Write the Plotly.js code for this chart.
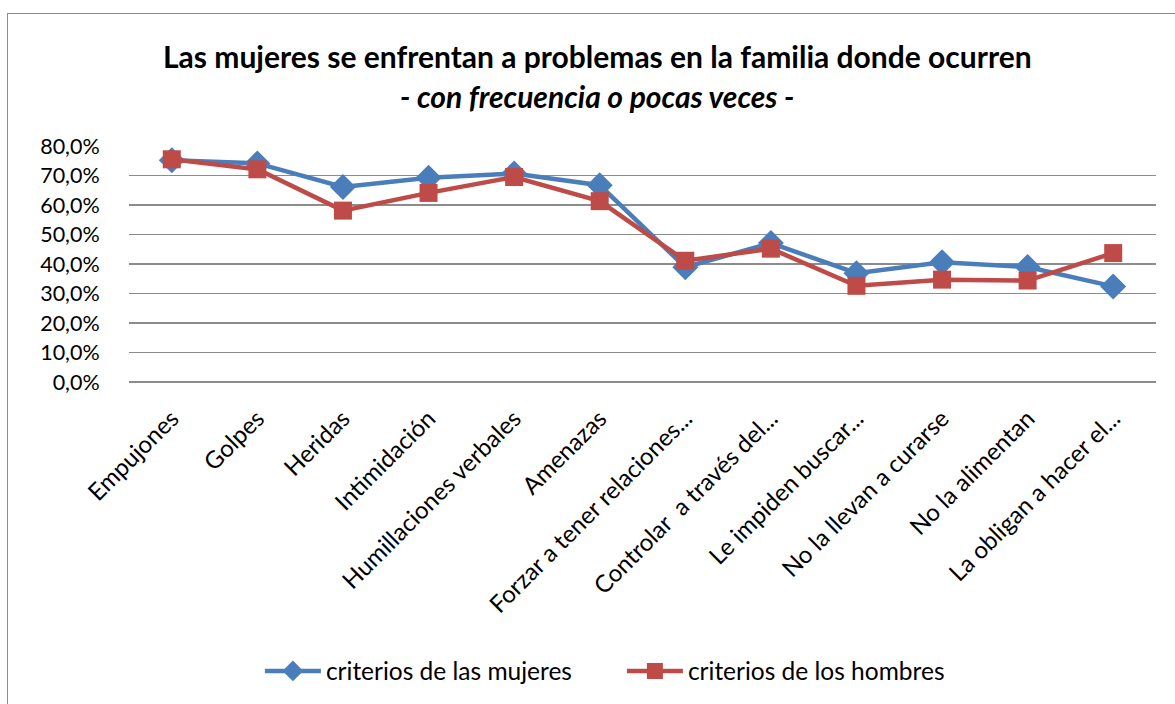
<!DOCTYPE html>
<html>
<head>
<meta charset="utf-8">
<script src="https://cdn.plot.ly/plotly-3.0.1.min.js"></script>
<style>
html,body{margin:0;padding:0;background:#fff;overflow:hidden;}
#chart{position:absolute;left:7px;top:13px;width:1168px;height:691px;border-left:1.5px solid #8c8c8c;border-top:1.5px solid #8c8c8c;box-sizing:border-box;}
</style>
</head>
<body>
<div id="chart"></div>
<script>
const categories = ["Empujones","Golpes","Heridas","Intimidación","Humillaciones verbales","Amenazas","Forzar a tener relaciones...","Controlar  a través del...","Le impiden buscar...","No la llevan a curarse","No la alimentan","La obligan a hacer el..."];
const mujeres = [0.752, 0.741, 0.661, 0.692, 0.707, 0.667, 0.389, 0.471, 0.369, 0.406, 0.390, 0.324];
const hombres = [0.755, 0.721, 0.581, 0.641, 0.695, 0.613, 0.411, 0.452, 0.326, 0.347, 0.344, 0.437];
const seriesNames = ["criterios de las mujeres","criterios de los hombres"];
const titleLine1 = "Las mujeres se enfrentan a problemas en la familia donde ocurren";
const titleLine2 = "- con frecuencia o pocas veces -";

const FONT = "Lato, 'Open Sans', sans-serif";
const H = 689;
const traces = [
  {x: categories, y: mujeres, name: seriesNames[0], type: 'scatter', mode: 'lines+markers',
   line: {color: '#4a7ebb', width: 4.5}, marker: {symbol: 'diamond', size: 20, color: '#4a7ebb'}},
  {x: categories, y: hombres, name: seriesNames[1], type: 'scatter', mode: 'lines+markers',
   line: {color: '#be4b48', width: 4.5}, marker: {symbol: 'square', size: 18, color: '#be4b48'}}
];
const layout = {
  width: 1166, height: H,
  separators: ',.',
  paper_bgcolor: 'rgba(0,0,0,0)', plot_bgcolor: '#fff',
  font: {family: FONT, color: '#000', size: 18},
  margin: {l: 121, r: 18, t: 132, b: 321},
  annotations: [
    {text: '<b>' + titleLine1 + '</b>', xref: 'paper', yref: 'paper', x: (596 - 128) / 1027, y: 1 + (145 - 55) / 236,
     xanchor: 'center', yanchor: 'middle', showarrow: false, font: {family: FONT, size: 30, color: '#000'}},
    {text: '<b><i>' + titleLine2 + '</i></b>', xref: 'paper', yref: 'paper', x: (596 - 128) / 1027, y: 1 + (145 - 95) / 236,
     xanchor: 'center', yanchor: 'middle', showarrow: false, font: {family: FONT, size: 30, color: '#000'}}
  ],
  xaxis: {type: 'category', range: [-0.5, 11.5], tickangle: -45, showgrid: false, showline: false, zeroline: false,
          tickfont: {size: 24}, ticks: 'outside', ticklen: 12, tickcolor: 'rgba(0,0,0,0)', automargin: false},
  yaxis: {range: [0, 0.8], dtick: 0.1, tickformat: '.1%', showgrid: true, gridcolor: '#8c8c8c', gridwidth: 1.5,
          zeroline: true, zerolinecolor: '#8c8c8c', zerolinewidth: 2, showline: false,
          ticks: 'outside', ticklen: 24, tickcolor: 'rgba(0,0,0,0)', tickfont: {size: 21.5}, automargin: false},
  showlegend: true,
  legend: {orientation: 'h', xref: 'container', x: 0.5265, xanchor: 'center', yref: 'container', y: 1 - (670 - 13) / H, yanchor: 'middle',
           font: {size: 24.5}, itemwidth: 56, entrywidth: 291, entrywidthmode: 'pixels', bgcolor: 'rgba(0,0,0,0)'}
};
Plotly.newPlot('chart', traces, layout, {staticPlot: true});
</script>
</body>
</html>
